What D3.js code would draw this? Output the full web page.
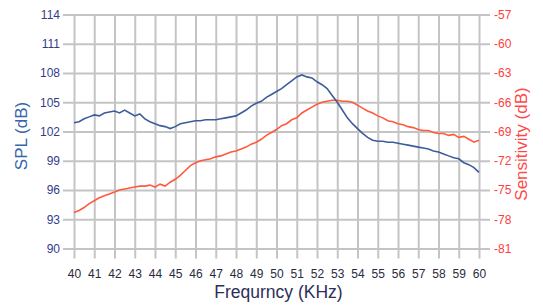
<!DOCTYPE html>
<html>
<head>
<meta charset="utf-8">
<script src="https://cdn.jsdelivr.net/npm/d3@7"></script>
<style>
  body { margin: 0; background: #fff; }
  text { font-family: "Liberation Sans", Arial, sans-serif; }
</style>
</head>
<body>
<div class="chart-box"></div>
<script>
// frequency points (KHz)
const freq = [
  40, 40.25, 40.5, 40.75, 41, 41.25, 41.5, 41.75, 42, 42.25, 42.5, 42.75,
  43, 43.25, 43.5, 43.75, 44, 44.25, 44.5, 44.75, 45, 45.25, 45.5, 45.75,
  46, 46.25, 46.5, 46.75, 47, 47.25, 47.5, 47.75, 48, 48.25, 48.5, 48.75,
  49, 49.25, 49.5, 49.75, 50, 50.25, 50.5, 50.75, 51, 51.25, 51.5, 51.75,
  52, 52.25, 52.5, 52.75, 53, 53.25, 53.5, 53.75, 54, 54.25, 54.5, 54.75,
  55, 55.25, 55.5, 55.75, 56, 56.25, 56.5, 56.75, 57, 57.25, 57.5, 57.75,
  58, 58.25, 58.5, 58.75, 59, 59.25, 59.5, 59.75, 60
];

// SPL (dB), left axis
const spl = [
  102.9, 103.0, 103.3, 103.5, 103.7, 103.6, 103.9, 104.0, 104.1, 103.9, 104.2, 103.9,
  103.6, 103.8, 103.3, 103.0, 102.8, 102.6, 102.5, 102.3, 102.5, 102.8, 102.9, 103.0,
  103.1, 103.1, 103.2, 103.2, 103.2, 103.3, 103.4, 103.5, 103.6, 103.9, 104.2, 104.6,
  104.9, 105.1, 105.5, 105.8, 106.1, 106.4, 106.8, 107.2, 107.6, 107.8, 107.6, 107.5,
  107.1, 106.8, 106.4, 105.7, 105.0, 104.2, 103.4, 102.8, 102.3, 101.8, 101.4, 101.1,
  101.0, 101.0, 100.9, 100.9, 100.8, 100.7, 100.6, 100.5, 100.4, 100.3, 100.2, 100.0,
  99.9, 99.7, 99.5, 99.3, 99.2, 98.8, 98.6, 98.3, 97.8
];

// Sensitivity (dB), right axis
const sensitivity = [
  -77.3, -77.1, -76.8, -76.4, -76.1, -75.8, -75.6, -75.4, -75.2, -75.0, -74.9, -74.8,
  -74.7, -74.6, -74.6, -74.5, -74.7, -74.4, -74.6, -74.2, -73.9, -73.5, -73.0, -72.5,
  -72.2, -72.0, -71.9, -71.8, -71.6, -71.5, -71.3, -71.1, -71.0, -70.8, -70.6, -70.3,
  -70.1, -69.8, -69.4, -69.1, -68.8, -68.4, -68.2, -67.8, -67.6, -67.1, -66.8, -66.5,
  -66.2, -66.0, -65.9, -65.8, -65.8, -65.9, -65.9, -66.0, -66.3, -66.6, -66.9, -67.1,
  -67.4, -67.6, -67.9, -68.0, -68.2, -68.3, -68.5, -68.6, -68.8, -68.9, -68.9, -69.1,
  -69.2, -69.2, -69.4, -69.3, -69.6, -69.5, -69.8, -70.1, -69.9
];

const xTicks = d3.range(40, 61, 1);
const splTicks = [90, 93, 96, 99, 102, 105, 108, 111, 114];
const sensTicks = [-81, -78, -75, -72, -69, -66, -63, -60, -57];

const W = 543, H = 305;
const margin = {top: 14.5, right: 64, bottom: 56.5, left: 74},
  width = W - margin.left - margin.right,
  height = H - margin.top - margin.bottom;
const ext = 11; // grid lines run past the plot

const svg = d3.select(".chart-box").append("svg")
  .attr("width", W)
  .attr("height", H)
  .append("g")
  .attr("transform", "translate(" + margin.left + "," + margin.top + ")");

const x = d3.scaleLinear().domain([40, 60]).range([0, width]);
const yL = d3.scaleLinear().domain([90, 114]).range([height, 0]);
const yR = d3.scaleLinear().domain([-81, -57]).range([height, 0]);

const gridColor = "#c4c4c4";

// vertical grid + x labels
const gx = svg.append("g")
  .attr("transform", "translate(0," + (height + 10) + ")")
  .call(d3.axisBottom(x).tickValues(xTicks).tickSize(-(height + 10)).tickPadding(11));
gx.select(".domain").remove();
gx.selectAll("line").attr("stroke", gridColor).attr("stroke-width", 2);
gx.selectAll("text").attr("fill", "#2a2b40").attr("font-size", "12px")
  .attr("font-family", "Liberation Sans, Arial, sans-serif");

// horizontal grid + left labels
const gl = svg.append("g")
  .attr("transform", "translate(" + (-ext) + ",0)")
  .call(d3.axisLeft(yL).tickValues(splTicks).tickSize(-(width + 2 * ext)).tickPadding(3));
gl.select(".domain").remove();
gl.selectAll("line").attr("stroke", gridColor).attr("stroke-width", 2);
gl.selectAll("text").attr("fill", "#353c88").attr("font-size", "12px")
  .attr("font-family", "Liberation Sans, Arial, sans-serif");

// right labels
const gr = svg.append("g")
  .attr("transform", "translate(" + (width + ext) + ",0)")
  .call(d3.axisRight(yR).tickValues(sensTicks).tickSize(0).tickPadding(4));
gr.select(".domain").remove();
gr.selectAll("text").attr("fill", "#ff3d3d").attr("font-size", "12px")
  .attr("font-family", "Liberation Sans, Arial, sans-serif")
  .text(d => d < 0 ? "-" + Math.abs(d) : d);

// lines
const lineL = d3.line().x((d, i) => x(freq[i])).y(d => yL(d)).curve(d3.curveLinear);
const lineR = d3.line().x((d, i) => x(freq[i])).y(d => yR(d)).curve(d3.curveLinear);

svg.append("path").datum(sensitivity)
  .attr("d", lineR)
  .attr("fill", "none")
  .attr("stroke", "#ff5a3c")
  .attr("stroke-width", 1.6);

svg.append("path").datum(spl)
  .attr("d", lineL)
  .attr("fill", "none")
  .attr("stroke", "#3c5c9c")
  .attr("stroke-width", 1.6);

// titles
svg.append("text")
  .attr("x", width / 2 + 2)
  .attr("y", H - margin.top - 7)
  .attr("text-anchor", "middle")
  .attr("fill", "#2b2f5a")
  .attr("font-size", "17.5px")
  .text("Frequrncy (KHz)");

svg.append("text")
  .attr("transform", "translate(" + (27 - margin.left) + "," + (136 - margin.top) + ") rotate(-90)")
  .attr("text-anchor", "middle")
  .attr("fill", "#3a64ae")
  .attr("font-size", "17px")
  .text("SPL (dB)");

svg.append("text")
  .attr("transform", "translate(" + (527 - margin.left) + "," + (144 - margin.top) + ") rotate(-90)")
  .attr("text-anchor", "middle")
  .attr("fill", "#ff4848")
  .attr("font-size", "17px")
  .text("Sensitivity (dB)");
</script>
</body>
</html>
